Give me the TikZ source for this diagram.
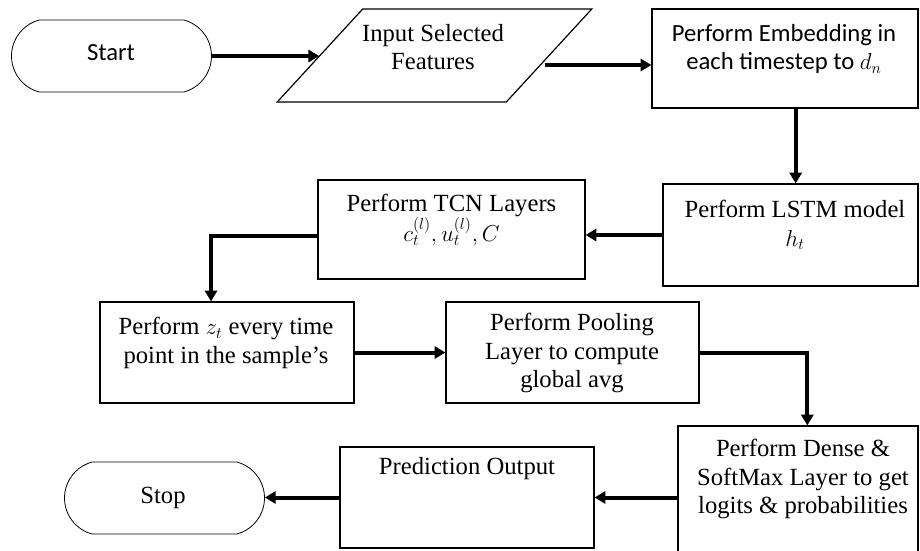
\documentclass[tikz,border=0pt]{standalone}
\usepackage{fontspec}
\setmainfont{Liberation Serif}
\setsansfont{Carlito}
\usetikzlibrary{shapes.geometric,shapes.misc,arrows.meta}
\tikzset{
block/.style={
  draw,
  rectangle,
  line width=0.9pt,
  inner sep=0pt
  },
term/.style={
  draw,
  rounded rectangle,
  rounded rectangle arc length=150,
  line width=0.6pt,
  inner sep=0pt,
  minimum width=150pt,
  minimum height=54pt
  },
io/.style={
  draw,
  trapezium,
  trapezium left angle=56.7,
  trapezium right angle=123.3,
  trapezium stretches=true,
  line width=0.9pt,
  inner sep=0pt
  },
txt/.style={align=center, inner sep=0pt, font=\fontsize{18.5}{21.5}\selectfont},
stxt/.style={align=center, inner sep=0pt, font=\sffamily\fontsize{18.5}{21.5}\selectfont},
flow/.style={draw, line width=3pt, -{Triangle[length=8pt,width=9pt]}}
}

\begin{document}
\begin{tikzpicture}[x=0.75pt,y=0.75pt,yscale=-1,xscale=1]
\useasboundingbox (0,0) rectangle (920,550);

% shapes
\node[term] (start) at (111.5,56) {};
\node[io, minimum width=236.25pt, minimum height=69.75pt] (input) at (434.5,55.5) {\phantom{X}};
\node[block, minimum width=199.5pt, minimum height=74.25pt] (embed) at (785,58.5) {};
\node[block, minimum width=191.25pt, minimum height=76.5pt] (lstm) at (790.5,235) {};
\node[block, minimum width=200.25pt, minimum height=74.25pt] (tcn) at (451.5,229.5) {};
\node[block, minimum width=190.5pt, minimum height=75.75pt] (zt) at (227,352.5) {};
\node[block, minimum width=189.75pt, minimum height=75.75pt] (pool) at (572.5,352.5) {};
\node[block, minimum width=180pt, minimum height=100.5pt] (dense) at (798,493) {};
\node[block, minimum width=190.5pt, minimum height=75.75pt] (pred) at (467,497.5) {};
\node[term] (stop) at (164.5,498) {};

% texts
\node[stxt] (starttxt) at (111,53) {Start};
\node[txt] (inputtxt) at (433,47) {Input Selected\\Features};
\node[stxt] (embedtxt) at (784,49) {Perform Embedding in\\each timestep to $d_n$};
\node[txt] (lstmtxt) at (795,225) {Perform LSTM model\\$h_t$};
\node[txt] (tcntxt) at (451.5,220) {Perform TCN Layers\\$c_t^{(l)}, u_t^{(l)}, C$};
\node[txt] (zttxt) at (226,343) {Perform $z_t$ every time\\point in the sample's};
\node[txt] (pooltxt) at (572,353) {Perform Pooling\\Layer to compute\\global avg};
\node[txt] (densetxt) at (803,479) {Perform Dense \&\\SoftMax Layer to get\\logits \& probabilities};
\node[txt] (predtxt) at (467,469) {Prediction Output};
\node[txt] (stoptxt) at (163,498) {Stop};

% connectors
\coordinate (inR) at ([shift={(-5,9.5)}]input.east);
\coordinate (embB) at ([xshift=8pt]embed.south);
\coordinate (tcnL) at ([yshift=5pt]tcn.west);
\coordinate (ztT) at ([xshift=-12pt]zt.north);
\coordinate (denseT) at ([xshift=7pt]dense.north);

\draw[flow] (start.east) -- (start.east -| input.west);
\draw[flow] (inR) -- (inR -| embed.west);
\draw[flow] (embB) -- (embB |- lstm.north);
\draw[flow] (lstm.west) -- (lstm.west -| tcn.east);
\draw[flow] (tcnL) -| (ztT);
\draw[flow] (zt) -- (pool);
\draw[flow] (pool.east) -| (denseT);
\draw[flow] (pred.east -| dense.west) -- (pred.east);
\draw[flow] (pred.west) -- (pred.west -| stop.east);

\end{tikzpicture}
\end{document}
